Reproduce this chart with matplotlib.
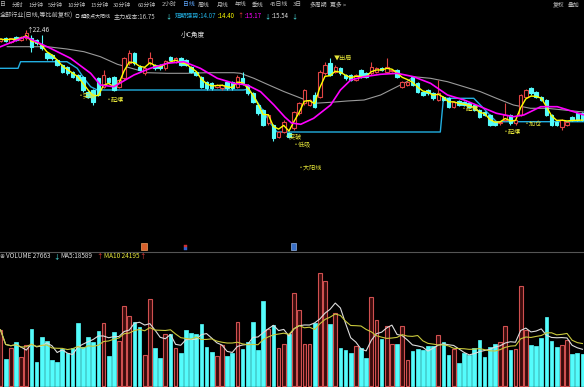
import matplotlib
matplotlib.use('Agg')
import matplotlib.pyplot as plt
import numpy as np
import pandas as pd
from matplotlib.patches import Rectangle
from matplotlib.lines import Line2D

plt.rcParams['font.family'] = ['Noto Sans CJK SC', 'DejaVu Sans']

# ---------------- data (daily candles) ----------------
opens = [21.4, 21.67, 21.33, 21.83, 21.5, 21.67, 21.67, 21.5, 21.0, 20.17,
         20.0, 19.5, 19.0, 18.83, 18.33, 18.0, 17.83, 16.33, 16.5, 17.67,
         16.83, 17.67, 17.83, 16.83, 17.67, 19.17, 20.17, 18.83, 18.17, 19.17,
         19.0, 19.0, 18.67, 19.83, 19.33, 19.67, 19.5, 18.83, 18.33, 17.83,
         17.33, 17.17, 16.83, 16.67, 17.33, 17.33, 16.83, 17.67, 17.0, 16.17,
         15.0, 14.5, 13.17, 13.0, 11.83, 12.33, 12.17, 12.67, 14.17, 15.17,
         15.0, 16.0, 15.83, 18.17, 19.17, 18.33, 18.67, 18.0, 18.0, 17.5,
         18.5, 18.17, 18.17, 18.33, 18.67, 18.33, 18.43, 18.5, 16.83, 17.0,
         17.83, 17.17, 16.33, 16.5, 16.17, 15.5, 15.83, 15.67, 14.83, 15.4,
         15.33, 15.17, 15.0, 14.5, 14.33, 14.0, 13.33, 13.17, 13.5, 14.0,
         13.17, 14.0, 15.83, 16.67, 16.33, 15.83, 15.5, 14.0, 13.33, 12.83,
         13.0, 13.83, 14.17, 14.17]
closes = [21.6, 21.43, 21.67, 21.5, 21.83, 22.17, 20.83, 21.17, 20.67, 19.67,
          19.67, 19.0, 18.33, 18.17, 17.83, 17.5, 16.5, 15.83, 15.33, 16.0,
          18.0, 17.33, 16.5, 17.5, 19.67, 20.17, 19.17, 18.5, 18.67, 19.67,
          18.67, 18.67, 19.4, 19.5, 19.67, 19.0, 19.0, 18.33, 18.0, 16.83,
          16.67, 16.67, 17.0, 17.0, 16.67, 16.67, 17.83, 17.17, 16.17, 15.33,
          14.17, 13.0, 14.0, 11.67, 12.33, 13.33, 11.83, 14.33, 15.17, 16.5,
          15.5, 14.83, 18.33, 19.0, 18.0, 18.83, 18.17, 17.67, 17.5, 18.0,
          17.83, 17.83, 18.83, 18.67, 18.5, 18.83, 18.5, 17.83, 17.33, 17.33,
          17.0, 16.33, 16.0, 16.17, 15.67, 16.17, 15.5, 14.83, 15.33, 15.0,
          15.0, 14.83, 14.5, 13.83, 14.0, 13.0, 13.0, 13.33, 14.0, 13.17,
          13.5, 16.0, 16.5, 16.17, 15.83, 15.5, 14.0, 13.0, 13.0, 13.5,
          13.33, 13.5, 13.5, 13.5]
highs = [21.7, 21.8, 21.75, 21.95, 21.95, 22.46, 22.0, 21.6, 22.0, 20.3,
         20.1, 19.6, 19.1, 18.95, 18.45, 18.1, 17.95, 16.45, 16.6, 17.8,
         18.5, 17.8, 17.95, 17.6, 19.8, 20.5, 20.3, 19.0, 18.8, 20.33,
         19.1, 19.1, 19.5, 19.95, 19.8, 19.8, 19.6, 18.95, 18.45, 17.95,
         17.45, 17.3, 17.1, 17.1, 17.45, 17.45, 18.0, 18.33, 17.1, 16.3,
         15.1, 14.6, 14.1, 13.1, 12.45, 13.5, 12.3, 14.45, 15.3, 16.6,
         15.6, 16.3, 18.5, 19.3, 19.67, 19.0, 18.8, 18.1, 18.1, 18.1,
         18.6, 18.3, 19.33, 18.8, 18.8, 19.67, 18.6, 18.6, 17.45, 17.45,
         17.95, 17.3, 16.45, 16.6, 16.3, 17.5, 15.95, 15.8, 15.45, 15.5,
         15.45, 15.3, 15.1, 14.6, 14.45, 14.1, 13.45, 13.45, 15.17, 14.1,
         13.6, 16.1, 16.6, 16.8, 16.45, 15.95, 15.6, 14.1, 13.45, 13.6,
         13.45, 13.95, 14.3, 14.3]
lows = [21.3, 21.35, 21.25, 21.4, 21.4, 21.55, 20.33, 21.0, 20.55, 19.55,
        19.5, 18.9, 18.2, 18.0, 17.7, 17.4, 16.35, 15.7, 15.0, 15.9,
        16.7, 17.2, 16.4, 16.7, 17.5, 19.0, 19.0, 18.4, 18.0, 19.05,
        18.55, 18.5, 18.55, 19.4, 19.2, 18.9, 18.9, 18.2, 17.9, 16.7,
        16.55, 16.5, 16.7, 16.55, 16.55, 16.55, 16.7, 17.05, 16.05, 15.2,
        14.05, 12.9, 13.05, 11.4, 11.7, 12.2, 11.7, 12.55, 14.05, 15.05,
        14.9, 14.7, 15.7, 18.0, 17.9, 18.2, 18.05, 17.55, 17.4, 17.4,
        17.7, 17.7, 18.05, 18.2, 18.4, 18.2, 18.35, 17.7, 16.7, 16.9,
        16.9, 16.2, 15.9, 16.05, 15.55, 15.4, 15.4, 14.7, 14.7, 14.9,
        14.9, 14.7, 14.4, 13.7, 13.9, 12.9, 12.9, 13.05, 13.4, 13.05,
        13.05, 13.9, 15.7, 16.05, 15.7, 15.4, 13.9, 12.9, 12.9, 12.5,
        12.9, 13.4, 13.4, 13.4]
# volume in thousands of lots
volumes = [44.9, 21.6, 30.2, 35.5, 23.5, 32.8, 45.7, 19.0, 39.2, 36.0,
           20.8, 19.0, 29.4, 26.2, 30.2, 50.5, 31.0, 39.0, 35.5, 44.3,
           50.2, 24.0, 43.5, 36.0, 64.1, 56.1, 51.3, 47.5, 24.8, 69.7,
           30.4, 22.4, 41.7, 41.7, 30.4, 26.7, 44.9, 42.7, 41.7, 49.4,
           31.0, 27.0, 23.8, 32.6, 24.0, 26.7, 51.3, 29.4, 35.2, 51.5,
           28.8, 68.1, 45.4, 48.9, 30.4, 33.6, 41.7, 74.5, 60.9, 33.4,
           33.4, 50.2, 90.2, 83.8, 49.4, 58.2, 30.4, 28.6, 26.4, 32.0,
           30.7, 22.7, 71.0, 52.9, 37.9, 48.1, 33.6, 33.6, 48.1, 20.8,
           28.3, 29.6, 28.6, 32.3, 32.3, 40.6, 35.0, 24.8, 29.4, 18.7,
           26.7, 24.8, 30.2, 36.8, 23.5, 31.5, 33.6, 35.2, 48.1, 28.6,
           29.6, 80.4, 44.9, 32.8, 32.0, 38.4, 55.0, 36.0, 31.5, 32.8,
           36.8, 25.6, 26.2, 25.4]

# medium moving line (magenta), read at bar indices
mag_idx = [0, 4.85, 9.7, 13.6, 17.5, 19.4, 22.0, 25.9, 29.1, 32.4, 35.6, 38.8,
           42.1, 45.3, 47.9, 50.5, 53.1, 55.2, 56.5, 58.3, 60.8, 64.1, 66.0,
           68.0, 70.6, 73.8, 77.0, 80.2, 83.5, 86.8, 90.0, 93.2, 96.3, 99.6,
           101.6, 104.9, 108.1, 111.3, 113.3]
mag_val = [20.83, 21.83, 20.67, 19.67, 18.17, 17.0, 16.83, 18.0, 18.67, 19.17,
           19.33, 18.67, 17.67, 17.17, 17.0, 16.33, 15.0, 13.8, 13.2, 13.07,
           13.67, 15.0, 16.5, 17.5, 17.83, 18.07, 18.17, 17.83, 17.17, 16.0,
           15.5, 14.83, 14.17, 13.83, 14.0, 14.83, 14.83, 14.33, 14.0]
# long moving line (gray)
gray_idx = [1.3, 9.1, 12.9, 16.2, 19.4, 22.7, 28.5, 32.4, 36.2, 40.1, 45.3,
            46.6, 49.2, 51.8, 55.0, 57.6, 60.9, 64.1, 67.3, 70.6, 73.8, 77.0,
            78.9, 80.2, 83.5, 86.8, 90.0, 93.2, 96.3, 99.6, 102.9, 106.1,
            109.4, 112.6, 113.4]
gray_val = [20.83, 20.83, 20.6, 20.33, 19.83, 19.07, 18.23, 18.17, 18.17,
            18.23, 18.23, 18.17, 17.67, 17.07, 16.35, 15.83, 15.17, 15.27,
            15.4, 15.5, 16.0, 16.83, 17.33, 17.83, 17.67, 17.33, 16.83, 16.33,
            15.67, 15.0, 14.67, 14.67, 14.5, 14.33, 14.3]
# support step line (blue)
blue_idx = [-0.5, 3.4, 3.9, 12.9, 14.9, 16.2, 17.5, 18.8, 47.2, 48.2, 49.2,
            51.1, 52.4, 53.7, 85.4, 86.0, 91.9, 93.5, 95.0, 96.3, 113.5]
blue_val = [18.67, 18.67, 19.33, 19.33, 18.67, 17.67, 16.83, 16.5, 16.5, 16.6,
            15.83, 14.33, 13.17, 12.3, 12.3, 15.67, 15.67, 14.83, 14.0, 13.33,
            13.33]

signal_text = ['•突破', '•起爆', '•突破', '•低吸', '•大阳线', '▼出局', '•起爆', '•起爆', '•加仓']
signal_idx = [14.95, 20.4, 55.0, 56.7, 57.7, 64.7, 89.3, 97.5, 101.6]
signal_val = [15.9, 15.5, 11.8, 11.1, 8.7, 19.7, 14.6, 12.3, 13.1]

# ---------------- figure ----------------
W, H = 584, 387
fig = plt.figure(figsize=(W / 100, H / 100), dpi=100, facecolor='black')
axp = fig.add_axes([0, 1 - 250 / H, 1, 250 / H])
axv = fig.add_axes([0, 0, 1, 135 / H])
for ax in (axp, axv):
    ax.set_facecolor('black')
    ax.axis('off')
    ax.set_xlim(-0.1, 113.3)
axp.set_ylim(0.5, 25.5)
axv.set_ylim(-0.8, 107.2)

CY = '#54fcfc'
RD = '#e04444'
n = len(opens)
for i in range(n):
    o, c, h, l = opens[i], closes[i], highs[i], lows[i]
    up = c >= o
    col = RD if up else CY
    axp.vlines(i, l, h, color=col, lw=0.8, zorder=2)
    bot, top = min(o, c), max(o, c)
    axp.add_patch(Rectangle((i - 0.34, bot), 0.68, max(top - bot, 0.05),
                            facecolor='black' if up else CY, edgecolor=col,
                            lw=0.8, zorder=3))

cl = pd.Series(closes)
yel = cl.ewm(span=3, adjust=False).mean()
axp.plot(np.arange(n), yel, color='#ffff00', lw=1.0, zorder=4)
axp.plot(mag_idx, mag_val, color='#ff00ff', lw=1.2, zorder=4)
axp.plot(gray_idx, gray_val, color='#9a9a9a', lw=0.8, zorder=1)
axp.plot(blue_idx, blue_val, color='#22aee0', lw=1.0, zorder=1)

for s, xi, yv in zip(signal_text, signal_idx, signal_val):
    axp.text(xi, yv, s, color='#e6e63a', fontsize=4.4, va='center', ha='left', zorder=6)

axp.text(4.9, 22.5, '↑22.46', color='#dddddd', fontsize=4.8, va='center', ha='left')
axp.text(35.0, 22.0, '小C角度', color='#dddddd', fontsize=4.8, va='center', ha='left')

# volume
for i in range(n):
    up = closes[i] >= opens[i]
    if up:
        axv.add_patch(Rectangle((i - 0.36, 0), 0.72, volumes[i], facecolor='#3a0c0c',
                                edgecolor='#d05050', lw=0.8))
    else:
        axv.add_patch(Rectangle((i - 0.36, 0), 0.72, volumes[i], facecolor=CY,
                                edgecolor=CY, lw=0.5))
vs = pd.Series(volumes)
axv.plot(np.arange(n), vs.rolling(5, min_periods=1).mean(), color='#dddddd', lw=0.8)
axv.plot(np.arange(n), vs.rolling(10, min_periods=1).mean(), color='#c8c83c', lw=0.8)

fig.add_artist(Line2D([0, 1], [1 - 251.5 / H] * 2, color='#555555', lw=0.8))


def t(xp, yp, s, color='#c8c8c8', size=4.4):
    fig.text(xp / W, 1 - yp / H, s, color=color, fontsize=size, va='center', ha='left')


# header row 1
row1 = [(0, '日'), (12, '分时'), (28, '1分钟'), (48, '5分钟'), (67, '10分钟'), (90, '15分钟'),
        (113, '30分钟'), (138, '60分钟'), (162, '2小时'), (183, '日线'), (198, '周线'),
        (217, '月线'), (235, '年线'), (252, '季线'), (270, '45日线'), (293, '3日'),
        (310, '多周期'), (330, '更多 >'), (553, '复权'), (568, '叠加')]
for xp, s in row1:
    t(xp, 5, s, '#5fa8ff' if s == '日线' else '#bbbbbb', 4.2)

# header row 2
t(0, 16, '全部行业(日线,等比前复权)')
t(75, 16, '◎', '#bbbbbb', 3.6)
t(81, 16, '超级点大阳线', '#dddddd', 3.6)
t(114, 16, '主力成本:16.75')
t(165, 16, '↓', '#54fcfc')
t(175, 16, '短期强势:14.07', '#22aee0')
t(218, 16, ':14.40', '#ffff00')
t(237, 16, '↑', '#ff4040')
t(245, 16, ':15.17', '#ff00ff')
t(264, 16, '↓', '#54fcfc')
t(272, 16, ':15.54', '#dddddd')
t(291, 16, '↓', '#54fcfc')

# volume header
t(0, 256, '◉', '#888888', 3.6)
t(6, 256, 'VOLUME 27663', '#dddddd', 4.6)
t(53, 256, '↓', '#54fcfc', 4.6)
t(60, 256, 'MA5:18589', '#dddddd', 4.6)
t(96, 256, '↑', '#ff4040', 4.6)
t(104, 256, 'MA10 24195', '#e6e63a', 4.6)
t(139, 256, '↑', '#ff4040', 4.6)

# small markers above separator
fig.add_artist(Rectangle((141 / W, 1 - 250 / H), 6 / W, 7 / H, facecolor='#d8602c', edgecolor='#f0a060', lw=0.5))
fig.add_artist(Rectangle((184 / W, 1 - 250 / H), 3 / W, 3 / H, facecolor='#3060d0', edgecolor='#3060d0', lw=0.3))
fig.add_artist(Rectangle((184 / W, 1 - 247 / H), 3 / W, 2 / H, facecolor='#d03030', edgecolor='#d03030', lw=0.3))
fig.add_artist(Rectangle((291 / W, 1 - 250 / H), 5 / W, 7 / H, facecolor='#3a70c8', edgecolor='#90b0e0', lw=0.5))

fig.savefig('out.png', dpi=100, facecolor='black')
